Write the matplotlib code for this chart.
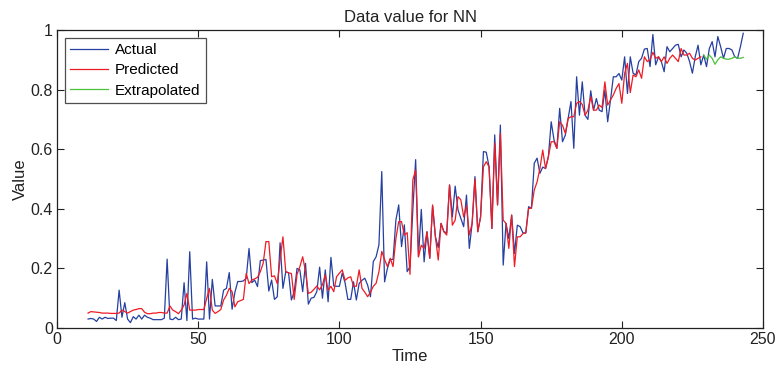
import numpy as np
import matplotlib
matplotlib.use("Agg")
import matplotlib.pyplot as plt

plt.rcParams['font.family'] = ['Liberation Sans', 'DejaVu Sans']

actual_start = 11
actual = [
    0.030, 0.032, 0.030, 0.022, 0.036, 0.030, 0.036, 0.032, 0.033, 0.033,
    0.025, 0.127, 0.036, 0.085, 0.030, 0.018, 0.038, 0.030, 0.043, 0.030,
    0.043, 0.036, 0.033, 0.028, 0.028, 0.028, 0.028, 0.033, 0.231, 0.030,
    0.028, 0.036, 0.028, 0.030, 0.152, 0.025, 0.256, 0.030, 0.033, 0.030,
    0.030, 0.030, 0.222, 0.030, 0.163, 0.074, 0.074, 0.074, 0.127, 0.133,
    0.186, 0.063, 0.120, 0.156, 0.156, 0.158, 0.167, 0.267, 0.152, 0.161,
    0.139, 0.226, 0.228, 0.230, 0.124, 0.161, 0.096, 0.105, 0.286, 0.133,
    0.189, 0.185, 0.094, 0.122, 0.200, 0.195, 0.122, 0.217, 0.080, 0.100,
    0.103, 0.122, 0.204, 0.100, 0.195, 0.088, 0.237, 0.141, 0.140, 0.140,
    0.184, 0.152, 0.096, 0.096, 0.155, 0.094, 0.150, 0.160, 0.167, 0.144,
    0.105, 0.223, 0.239, 0.279, 0.525, 0.155, 0.200, 0.230, 0.230, 0.362,
    0.413, 0.273, 0.346, 0.189, 0.206, 0.396, 0.565, 0.239, 0.398, 0.222,
    0.323, 0.234, 0.410, 0.306, 0.270, 0.351, 0.323, 0.320, 0.480, 0.373,
    0.476, 0.396, 0.368, 0.340, 0.446, 0.267, 0.351, 0.508, 0.323, 0.373,
    0.592, 0.590, 0.541, 0.334, 0.648, 0.413, 0.681, 0.211, 0.351, 0.300,
    0.379, 0.250, 0.345, 0.340, 0.319, 0.319, 0.407, 0.402, 0.553, 0.570,
    0.519, 0.540, 0.535, 0.575, 0.692, 0.631, 0.603, 0.737, 0.625, 0.647,
    0.703, 0.760, 0.603, 0.843, 0.714, 0.826, 0.714, 0.700, 0.796, 0.731,
    0.770, 0.731, 0.726, 0.799, 0.692, 0.765, 0.843, 0.843, 0.854, 0.832,
    0.910, 0.787, 0.910, 0.855, 0.849, 0.894, 0.905, 0.936, 0.938, 0.877,
    0.985, 0.883, 0.910, 0.894, 0.860, 0.944, 0.927, 0.938, 0.949, 0.952,
    0.910, 0.933, 0.922, 0.894, 0.855, 0.910, 0.949, 0.883, 0.916, 0.877,
    0.938, 0.961, 0.910, 0.978, 0.944, 0.905, 0.938, 0.938, 0.933, 0.910,
    0.905, 0.944, 0.989,
]

predicted_start = 11
predicted = [
    0.050, 0.055, 0.054, 0.053, 0.052, 0.050, 0.050, 0.050, 0.049, 0.049,
    0.049, 0.050, 0.060, 0.055, 0.050, 0.055, 0.060, 0.062, 0.065, 0.065,
    0.053, 0.048, 0.048, 0.050, 0.050, 0.052, 0.052, 0.050, 0.050, 0.074,
    0.060, 0.055, 0.048, 0.060, 0.077, 0.116, 0.060, 0.060, 0.060, 0.062,
    0.062, 0.062, 0.099, 0.133, 0.060, 0.049, 0.055, 0.062, 0.094, 0.110,
    0.133, 0.122, 0.071, 0.088, 0.092, 0.096, 0.183, 0.149, 0.161, 0.165,
    0.170, 0.189, 0.217, 0.290, 0.290, 0.172, 0.175, 0.149, 0.230, 0.306,
    0.189, 0.185, 0.183, 0.096, 0.180, 0.206, 0.239, 0.190, 0.116, 0.120,
    0.130, 0.141, 0.128, 0.145, 0.178, 0.126, 0.140, 0.122, 0.172, 0.184,
    0.195, 0.160, 0.168, 0.172, 0.140, 0.140, 0.195, 0.133, 0.120, 0.105,
    0.120, 0.140, 0.150, 0.189, 0.257, 0.230, 0.206, 0.234, 0.206, 0.300,
    0.357, 0.357, 0.312, 0.320, 0.180, 0.497, 0.530, 0.239, 0.278, 0.267,
    0.323, 0.234, 0.413, 0.306, 0.228, 0.351, 0.323, 0.312, 0.480, 0.345,
    0.362, 0.441, 0.430, 0.373, 0.410, 0.312, 0.351, 0.500, 0.323, 0.373,
    0.541, 0.558, 0.541, 0.334, 0.620, 0.413, 0.653, 0.362, 0.351, 0.267,
    0.379, 0.206, 0.306, 0.306, 0.317, 0.319, 0.401, 0.402, 0.463, 0.490,
    0.535, 0.597, 0.535, 0.575, 0.625, 0.625, 0.603, 0.692, 0.680, 0.653,
    0.703, 0.709, 0.709, 0.754, 0.760, 0.750, 0.714, 0.731, 0.776, 0.731,
    0.731, 0.748, 0.740, 0.826, 0.748, 0.765, 0.782, 0.804, 0.820, 0.754,
    0.854, 0.888, 0.790, 0.849, 0.843, 0.866, 0.838, 0.910, 0.894, 0.900,
    0.925, 0.905, 0.910, 0.894, 0.910, 0.888, 0.905, 0.916, 0.905, 0.894,
    0.938, 0.916, 0.916, 0.922, 0.905, 0.899, 0.905, 0.910,
]

extrap_start = 229
extrapolated = [
    0.916, 0.902, 0.916, 0.905, 0.885, 0.900, 0.910, 0.905, 0.902, 0.902,
    0.905, 0.910, 0.905, 0.905, 0.908,
]

x_ticks = [0, 50, 100, 150, 200, 250]
y_ticks = [0, 0.2, 0.4, 0.6, 0.8, 1]
y_tick_labels = ["0", "0.2", "0.4", "0.6", "0.8", "1"]

fig = plt.figure(figsize=(7.82, 3.68), dpi=100)
ax = fig.add_axes([57/782, 1 - 328/368, (763-57)/782, (328-30)/368])

t_act = np.arange(actual_start, actual_start + len(actual))
t_pred = np.arange(predicted_start, predicted_start + len(predicted))
t_ext = np.arange(extrap_start, extrap_start + len(extrapolated))

ax.plot(t_act, actual, color='#2540a0', lw=0.9, label='Actual')
ax.plot(t_pred, predicted, color='#ee1c25', lw=0.9, label='Predicted')
ax.plot(t_ext, extrapolated, color='#4cc13a', lw=0.9, label='Extrapolated')

ax.set_xlim(0, 250)
ax.set_ylim(0, 1)
ax.set_xticks(x_ticks)
ax.set_yticks(y_ticks)
ax.set_yticklabels(y_tick_labels)
ax.tick_params(direction='in', top=True, right=True, length=5, width=0.8,
               labelsize=11.5, colors='#222222', pad=3)
for s in ax.spines.values():
    s.set_linewidth(0.9)
    s.set_color('#222222')

ax.set_title('Data value for NN', fontsize=12, color='#222222', pad=6)
ax.set_xlabel('Time', fontsize=12, color='#222222', labelpad=1)
ax.set_ylabel('Value', fontsize=12, color='#222222', labelpad=2)

leg = ax.legend(loc='upper left', fontsize=11, frameon=True, fancybox=False,
                edgecolor='#222222', handlelength=2.5, handletextpad=0.45,
                borderpad=0.35, labelspacing=0.42, borderaxespad=0.5)
leg.get_frame().set_linewidth(0.9)

fig.savefig('out.png', dpi=100)
